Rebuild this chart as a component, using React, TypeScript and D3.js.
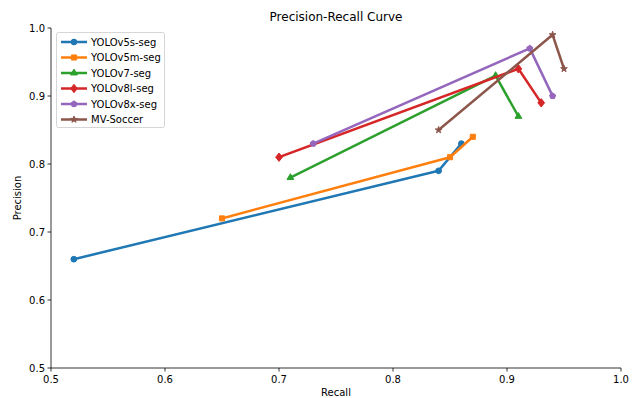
import React from "react";
import * as d3 from "d3";

const seriesNames = ["YOLOv5s-seg", "YOLOv5m-seg", "YOLOv7-seg", "YOLOv8l-seg", "YOLOv8x-seg", "MV-Soccer"];
const recall: number[][] = [
  [0.52, 0.84, 0.86],
  [0.65, 0.85, 0.87],
  [0.71, 0.89, 0.91],
  [0.70, 0.91, 0.93],
  [0.73, 0.92, 0.94],
  [0.84, 0.94, 0.95],
];
const precision: number[][] = [
  [0.66, 0.79, 0.83],
  [0.72, 0.81, 0.84],
  [0.78, 0.93, 0.87],
  [0.81, 0.94, 0.89],
  [0.83, 0.97, 0.90],
  [0.85, 0.99, 0.94],
];
const colors = ["#1f77b4", "#ff7f0e", "#2ca02c", "#d62728", "#9467bd", "#8c564b"];
const markerTypes = ["circle", "square", "triangle", "diamond", "pentagon", "star"];
const xTicks = [0.5, 0.6, 0.7, 0.8, 0.9, 1.0];
const yTicks = [0.5, 0.6, 0.7, 0.8, 0.9, 1.0];

const W = 637, H = 398;

function markerPath(type: string): string {
  if (type === "pentagon") {
    const r = 3.2;
    const pts = d3.range(5).map((i) => {
      const a = -Math.PI / 2 + (i * 2 * Math.PI) / 5;
      return [r * Math.cos(a), r * Math.sin(a)];
    });
    return "M" + pts.map((p) => p.join(",")).join("L") + "Z";
  }
  if (type === "diamond") {
    const r = 4.2;
    return `M0,${-r}L${r * 0.8},0L0,${r}L${-r * 0.8},0Z`;
  }
  if (type === "circle") return d3.symbol(d3.symbolCircle, 26)() as string;
  if (type === "square") return d3.symbol(d3.symbolSquare, 26)() as string;
  if (type === "triangle") return d3.symbol(d3.symbolTriangle, 20)() as string;
  return d3.symbol(d3.symbolStar, 14)() as string;
}

export default function App() {
  const xs = d3.scaleLinear().domain([0.5, 1.0]).range([51, 621]);
  const ys = d3.scaleLinear().domain([0.5, 1.0]).range([368, 28]);
  const line = d3.line<[number, number]>().x((d) => xs(d[0])).y((d) => ys(d[1]));
  const font = "DejaVu Sans, sans-serif";

  return (
    <svg width={W} height={H} style={{ position: "absolute", left: 0, top: 0, background: "#fff" }} fontFamily={font}>
      <rect width={W} height={H} fill="#fff" />
      <text x={336} y={21} textAnchor="middle" fontSize={12} fill="#000">Precision-Recall Curve</text>
      {seriesNames.map((name, i) => {
        const pts: [number, number][] = recall[i].map((r, j) => [r, precision[i][j]]);
        return (
          <g key={name}>
            <path d={line(pts) as string} fill="none" stroke={colors[i]} strokeWidth={2.5} strokeLinejoin="round" strokeLinecap="square" />
            {pts.map((p, j) => (
              <path key={j} d={markerPath(markerTypes[i])} transform={`translate(${xs(p[0])},${ys(p[1])})`} fill={colors[i]} stroke={colors[i]} strokeWidth={1} />
            ))}
          </g>
        );
      })}
      <line x1={51} x2={51} y1={28} y2={368} stroke="#000" strokeWidth={0.8} />
      <line x1={51} x2={621} y1={368} y2={368} stroke="#000" strokeWidth={0.8} />
      {xTicks.map((t) => (
        <g key={"x" + t}>
          <line x1={xs(t)} x2={xs(t)} y1={368} y2={371.5} stroke="#000" strokeWidth={0.8} />
          <text x={xs(t)} y={383} textAnchor="middle" fontSize={10} fill="#000">{t.toFixed(1)}</text>
        </g>
      ))}
      {yTicks.map((t) => (
        <g key={"y" + t}>
          <line x1={47.5} x2={51} y1={ys(t)} y2={ys(t)} stroke="#000" strokeWidth={0.8} />
          <text x={45} y={ys(t) + 3.5} textAnchor="end" fontSize={10} fill="#000">{t.toFixed(1)}</text>
        </g>
      ))}
      <text x={336} y={396} textAnchor="middle" fontSize={10} fill="#000">Recall</text>
      <text transform="translate(21,198) rotate(-90)" textAnchor="middle" fontSize={10} fill="#000">Precision</text>
      <rect x={56.5} y={32.5} width={108} height={95} rx={2} fill="#fff" fillOpacity={0.8} stroke="#ccc" strokeWidth={0.8} />
      {seriesNames.map((name, i) => {
        const ly = 42 + i * 15.5;
        return (
          <g key={"l" + name}>
            <line x1={61} x2={87} y1={ly} y2={ly} stroke={colors[i]} strokeWidth={2.5} />
            <path d={markerPath(markerTypes[i])} transform={`translate(74,${ly})`} fill={colors[i]} stroke={colors[i]} strokeWidth={1} />
            <text x={91} y={ly + 3.5} fontSize={10} fill="#000">{name}</text>
          </g>
        );
      })}
    </svg>
  );
}
